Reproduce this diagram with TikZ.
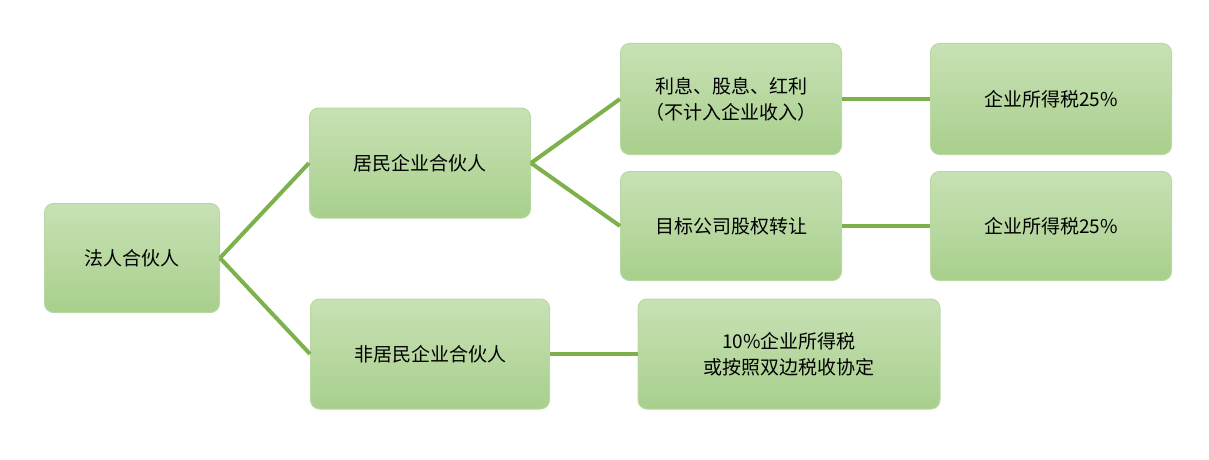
\documentclass[tikz,border=0pt]{standalone}
\usepackage{fontspec}
\newfontfamily\cjk{Noto Sans CJK SC}
\definecolor{bxtop}{HTML}{C8E1B5}
\definecolor{bxbot}{HTML}{A8CF8C}
\definecolor{bxline}{HTML}{B9D8A2}
\definecolor{ln}{HTML}{7DB14C}
\begin{document}
\begin{tikzpicture}[x=1pt,y=-1pt,
  bx/.style={rounded corners=9pt,draw=bxline,line width=1pt,top color=bxtop,bottom color=bxbot,
    font=\cjk\fontsize{19}{26}\selectfont,align=center,inner sep=0pt},
  cn/.style={ln,line width=4pt}]
\useasboundingbox (0,0) rectangle (1209,460);
\node[bx,minimum width=175,minimum height=109] (a) at (132,258) {法人合伙人};
\node[bx,minimum width=221,minimum height=110] (b) at (420,163) {居民企业合伙人};
\node[bx,minimum width=239,minimum height=110] (c) at (430,354) {非居民企业合伙人};
\node[bx,minimum width=221,minimum height=111] (d) at (731,99) {利息、股息、红利\\（不计入企业收入）};
\node[bx,minimum width=221,minimum height=109] (e) at (731,226) {目标公司股权转让};
\node[bx,minimum width=241,minimum height=111] (f) at (1051,99) {企业所得税25\%};
\node[bx,minimum width=241,minimum height=109] (g) at (1051,226) {企业所得税25\%};
\node[bx,minimum width=302,minimum height=110] (h) at (789,354) {10\%企业所得税\\或按照双边税收协定};
\draw[cn] (a.east) -- (b.west);
\draw[cn] (a.east) -- (c.west);
\draw[cn] (b.east) -- (d.west);
\draw[cn] (b.east) -- (e.west);
\draw[cn] (d.east) -- (f.west);
\draw[cn] (e.east) -- (g.west);
\draw[cn] (c.east) -- (h.west);
\end{tikzpicture}
\end{document}
